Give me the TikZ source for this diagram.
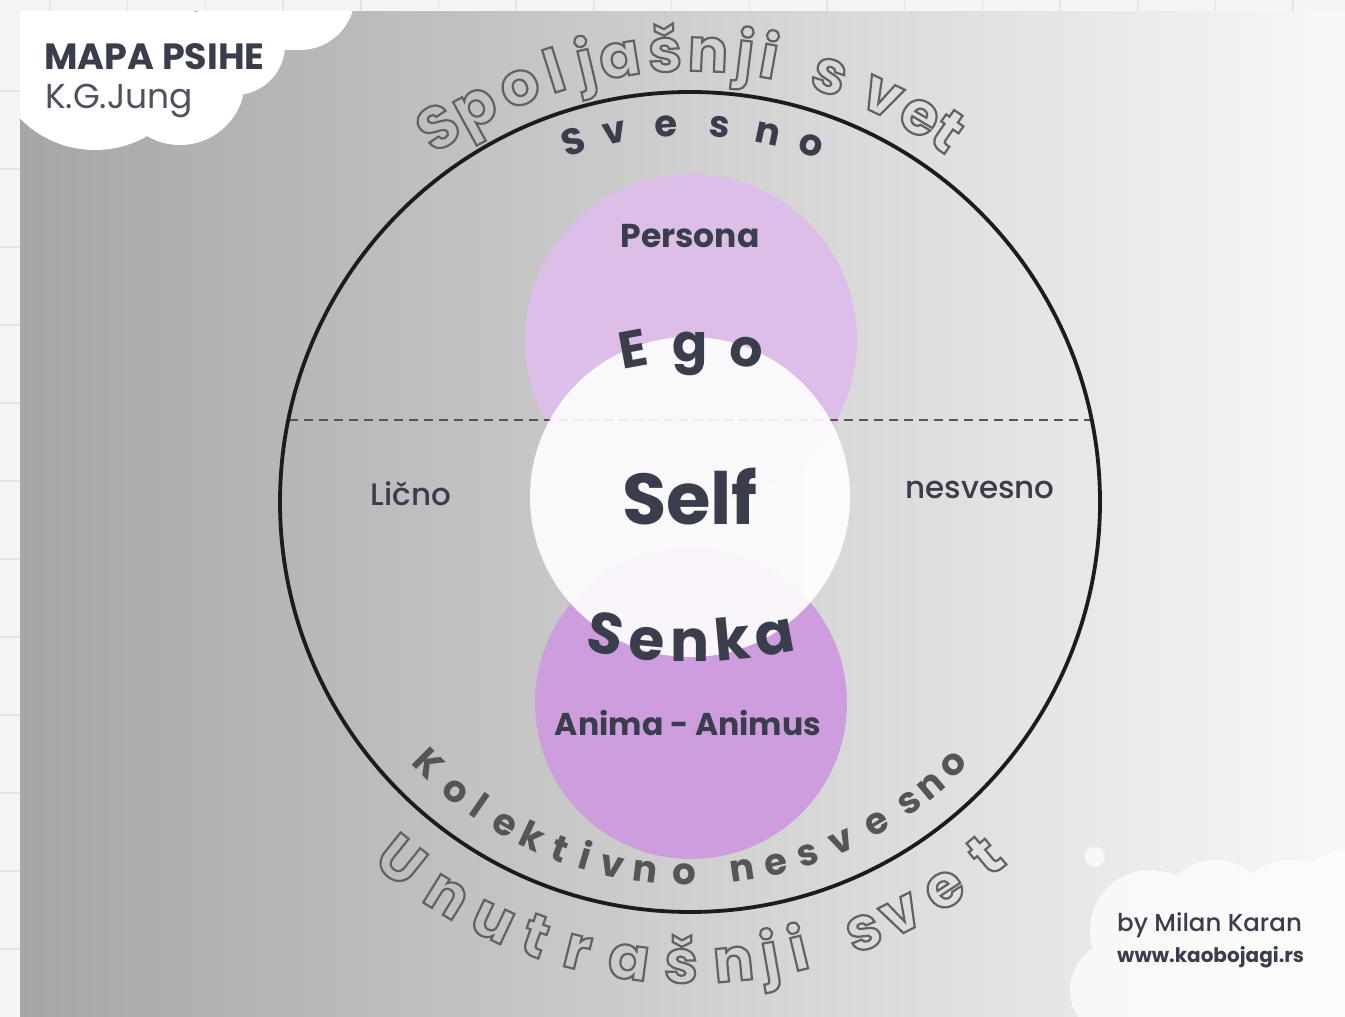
\documentclass[tikz,border=0pt]{standalone}
\usepackage{fontspec}
\setmainfont{Poppins}
\newfontfamily\srednji{Poppins Medium}
\usetikzlibrary{calc}
\definecolor{papir}{RGB}{245,245,245}
\definecolor{mreza}{RGB}{229,229,229}
\definecolor{pozL}{RGB}{166,166,166}
\definecolor{pozD}{RGB}{248,248,248}
\definecolor{tamna}{RGB}{58,62,76}
\definecolor{siva}{RGB}{85,85,85}
\definecolor{obris}{RGB}{98,98,98}
\definecolor{crna}{RGB}{28,28,28}
\definecolor{persona}{RGB}{220,190,232}
\definecolor{senka}{RGB}{205,157,222}

% slova samo sa obrisom
\newcommand{\obrys}[1]{\special{pdf:literal direct 1 Tr 2.2 w}#1\special{pdf:literal direct 0 Tr}}

\tikzset{
  slovo/.style={inner sep=0pt, anchor=base},
  spolja/.style={slovo, font=\bfseries\fontsize{60}{62}\selectfont, text=obris},
  unutra/.style={slovo, font=\bfseries\fontsize{37}{40}\selectfont},
  krupno/.style={slovo, font=\bfseries\fontsize{54}{56}\selectfont, text=tamna},
  natpis/.style={inner sep=0pt, font=\bfseries\fontsize{33}{36}\selectfont, text=tamna},
  oznaka/.style={inner sep=0pt, font=\srednji\fontsize{31}{34}\selectfont, text=tamna}
}

\begin{document}
\begin{tikzpicture}[x=1pt, y=1pt]
  \useasboundingbox (0,0) rectangle (1345,1017);

  % papir sa mrezom
  \fill[papir] (0,0) rectangle (1345,1017);
  \foreach \i in {0,...,16}
    \draw[mreza, line width=1.5pt] (50+77.7*\i,0) -- (50+77.7*\i,1017);
  \foreach \i in {0,...,12}
    \draw[mreza, line width=1.5pt] (0,926-78*\i) -- (1345,926-78*\i);

  % pozadina
  \shade[left color=pozL, right color=pozD] (20,0) rectangle (1345,1005);

  % oblaci
  \begin{scope}
    \clip (20,0) rectangle (1345,1005);
    % gore levo
    \fill[white] (20,967) rectangle (300,1005);
    \fill[white] (95,972) circle (105);
    \fill[white] (180,937) circle (65);
    \fill[white] (235,972) circle (50);
    \fill[white] (300,1022) circle (55);
    % dole desno
    \fill[white, opacity=0.7] (1095,160) circle (10);
    \begin{scope}[opacity=0.7, transparency group]
      \fill[white] (1150,87) circle (60);
      \fill[white] (1215,102) circle (55);
      \fill[white] (1290,97) circle (60);
      \fill[white] (1345,117) circle (50);
      \fill[white] (1120,27) circle (50);
      \fill[white] (1100,0) rectangle (1345,70);
    \end{scope}
  \end{scope}

  \coordinate (centar) at (690,515);
  \coordinate (levo) at (289,597);
  \coordinate (desno) at (1091,597);

  % krugovi
  \fill[persona] (691,677) circle (166);
  \fill[senka] (691,314) circle (156);
  \draw[siva, line width=2.8pt, dash pattern=on 9pt off 6pt] (levo) -- (desno);
  \fill[white, opacity=0.9] (690,520) circle (160);
  \draw[crna, line width=3.8pt] (centar) circle (410);

  % spoljasnji i unutrasnji svet
  \foreach \s/\u [count=\i] in {S/123.9, p/118.6, o/112.3, l/107.5, j/103.4, a/99.0, š/93.2, n/87.7, j/83.0, i/79.9, s/71.9, v/64.7, e/59.2, t/55.2}
    \node[spolja, rotate=\u-90] (sp\i) at ($(centar)+(\u:431)$) {\obrys{\s}};
  \foreach \s/\u [count=\i] in {U/231.1, n/238.3, u/244.8, t/250.4, r/255.9, a/262.4, š/268.9, n/275.4, j/280.0, i/283.6, s/292.0, v/297.1, e/303.3, t/309.9}
    \node[spolja, rotate=\u+90] (un\i) at ($(centar)+(\u:481)$) {\obrys{\s}};

  % svesno / kolektivno nesvesno
  \foreach \s/\u [count=\i] in {S/107.9, v/101.5, e/93.7, s/85.5, n/78.0, o/71.3}
    \node[unutra, text=tamna, rotate=\u-90] (sv\i) at ($(centar)+(\u:366)$) {\s};
  \foreach \s/\u [count=\i] in {K/225.0, o/231.0, l/235.3, e/240.1, k/244.7, t/249.5, i/253.5, v/257.9, n/263.1, o/269.2, n/278.1, e/283.4, s/288.4, v/294.1, e/300.2, s/306.1, n/310.3, o/315.1}
    \node[unutra, text=siva, rotate=\u+90] (ko\i) at ($(centar)+(\u:383)$) {\s};

  % ego i senka
  \coordinate (egoc) at (690,355);
  \foreach \s/\u [count=\i] in {E/100.4, g/90, o/79.6}
    \node[krupno, font=\bfseries\fontsize{52}{54}\selectfont, rotate=\u-90] (ego\i) at ($(egoc)+(\u:300)$) {\s};
  \coordinate (senkac) at (690,839);
  \foreach \s/\u [count=\i] in {S/259.5, e/264.7, n/270, k/275.3, a/280.5}
    \node[krupno, font=\bfseries\fontsize{58}{60}\selectfont, rotate=\u+90] (se\i) at ($(senkac)+(\u:484)$) {\s};

  % natpisi
  \node[natpis] (persona) at (690,781) {Persona};
  \node[natpis, font=\bfseries\fontsize{72}{76}\selectfont] (self) at (690,520) {Self};
  \node[natpis, font=\bfseries\fontsize{31.5}{34}\selectfont] (anima) at (688,294) {Anima - Animus};
  \node[oznaka] (licno) at (411,523) {Lično};
  \node[oznaka] (nesvesno) at (980,527) {nesvesno};

  % naslov i potpis
  \node[natpis, anchor=west, font=\bfseries\fontsize{36.5}{38}\selectfont] (mapa) at (44,960) {MAPA PSIHE};
  \node[oznaka, anchor=west, font=\fontsize{34.5}{36}\selectfont, text=tamna!90] (jung) at (45,916) {K.G.Jung};
  \node[oznaka, anchor=west, font=\srednji\fontsize{24.5}{27}\selectfont] (autor) at (1117,92) {by Milan Karan};
  \node[natpis, anchor=west, font=\bfseries\fontsize{20}{22}\selectfont] (sajt) at (1117,60) {www.kaobojagi.rs};
\end{tikzpicture}
\end{document}
